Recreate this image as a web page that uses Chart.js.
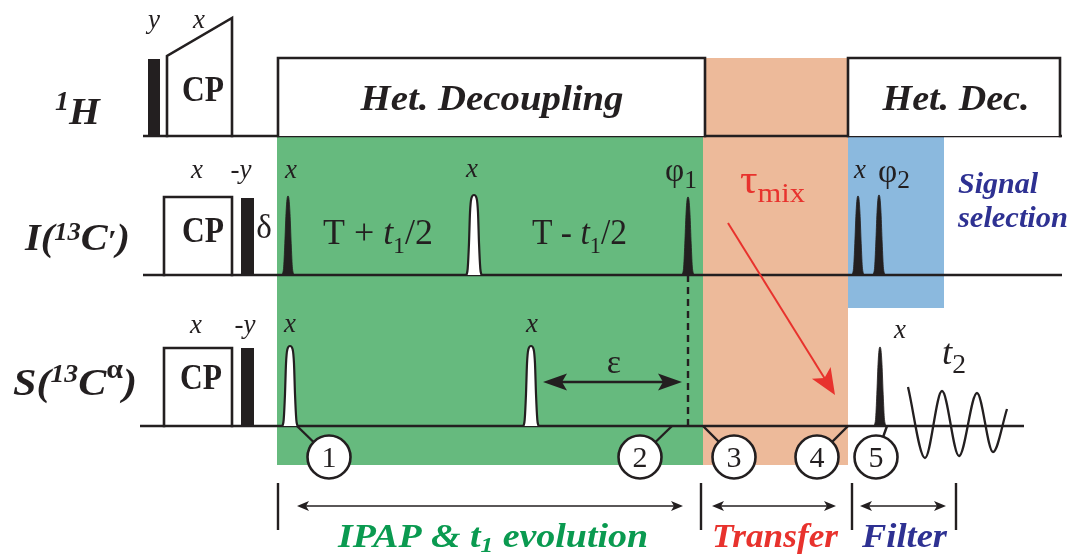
<!DOCTYPE html>
<html>
<head>
<meta charset="utf-8">
<script src="https://cdn.jsdelivr.net/npm/chart.js@4.4.0/dist/chart.umd.min.js"></script>
<style>
  html, body { margin: 0; padding: 0; background: #fff; overflow: hidden; }
  canvas { display: block; }
</style>
</head>
<body>
<canvas id="seq" width="1072" height="554"></canvas>
<script>
// Eixo de tempo horizontal e posição vertical, em unidades do desenho (1 unidade = 1 px)
const INK = '#231f20';
const SERIF = '"Liberation Serif", "DejaVu Serif", serif';

// Canais: 1H, I(13C'), S(13Ca)
const chanBase = [136, 275, 426];
const chanStart = [143, 143, 140];
const chanEnd = [1062, 1062, 1024];

// Períodos sombreados: IPAP & t1, Transfer, Filter
const periodX0 = [277, 703, 848];
const periodX1 = [703, 848, 944];
const periodTop = [137, 58, 137];
const periodBottom = [465, 465, 308];
const periodColor = ['#66ba7e', '#edba9a', '#8bb9de'];

// Pulsos duros (barras pretas)
const barChan = [0, 1, 2];
const barX0 = [148, 241, 241];
const barX1 = [160, 254, 254];
const barTop = [59, 198, 348];

// Blocos: CP em I e S, desacoplamento heteronuclear em 1H
const boxChan = [1, 2, 0, 0];
const boxX0 = [164, 164, 278, 848];
const boxX1 = [232, 232, 705, 1060];
const boxTop = [197, 348, 58, 58];
const boxFill = [null, null, '#fff', '#fff'];

// Rampa CP no 1H
const rampX = [167, 167, 232, 232];
const rampY = [136, 56, 18, 136];

// Pulsos seletivos
const pulseChan = [1, 1, 1, 1, 1, 2, 2, 2];
const pulseX = [288, 474, 688, 858, 879, 290, 531, 880];
const pulseTop = [196, 195, 197, 196, 195, 346, 346, 347];
const pulseBlack = [true, false, true, true, true, false, false, true];
// perfil do pulso: deslocamento lateral e fração da altura
const blackDx = [-6.5, -4.5, -3.2, -2, -1, 0, 1, 2, 3.2, 4.5, 6.5];
const whiteDx = [-7.5, -6.3, -5, -4, -2.6, 0, 2.6, 4, 5, 6.3, 7.5];
const profH = [0, 0.08, 0.4, 0.78, 0.96, 1, 0.96, 0.78, 0.4, 0.08, 0];

// FID (t2): máximos e mínimos
const fidX = [908, 925, 942, 959, 977, 993, 1007];
const fidY = [387, 458, 391, 456, 393, 452, 409];

// Marcadores numerados
const markNum = ['1', '2', '3', '4', '5'];
const markX = [329, 640, 734, 817, 876];
const markY = 457;
const markFoot = [297, 672, 703, 848, 887];

// Setas
const epsX = [543, 682], epsY = 382;
const dashX = 688;
const mixFrom = [728, 223], mixTo = [835, 395];
const spanX0 = [297, 712, 860];
const spanX1 = [683, 836, 946];
const spanY = 506;
const tickX = [278, 701, 852, 956];
const tickY = [483, 530];

// Textos: segmentos [texto, estilo, tamanho, deslocamento]
const labels = [
  { s: [['y', 'i', 27]], x: 154, y: 28 },
  { s: [['x', 'i', 27]], x: 199, y: 28 },
  { s: [['CP', 'b', 36]], x: 203, y: 101, w: 42 },
  { s: [['Het. Decoupling', 'bi', 35]], x: 492, y: 110, w: 263 },
  { s: [['Het. Dec.', 'bi', 35]], x: 956, y: 110, w: 147 },
  { s: [['1', 'bi', 27, -14], ['H', 'bi', 38]], x: 55, y: 124, a: 'left', w: 45 },
  { s: [['I', 'bi', 38], ['(', 'bi', 38], ['13', 'bi', 25, -10], ['C', 'bi', 38], ['\u2032', 'bi', 30], [')', 'bi', 38]], x: 25, y: 250, a: 'left', w: 105 },
  { s: [['S', 'bi', 38], ['(', 'bi', 38], ['13', 'bi', 25, -13], ['C', 'bi', 38], ['\u03b1', 'b', 27, -17], [')', 'bi', 38]], x: 13, y: 395, a: 'left', w: 124 },
  { s: [['x', 'i', 27]], x: 197, y: 178 },
  { s: [['-y', 'i', 27]], x: 241, y: 178 },
  { s: [['CP', 'b', 36]], x: 203, y: 242, w: 42 },
  { s: [['\u03b4', '', 33]], x: 264, y: 238 },
  { s: [['x', 'i', 27]], x: 291, y: 178 },
  { s: [['T + ', '', 36], ['t', 'i', 36], ['1', '', 24, 9], ['/2', '', 36]], x: 323, y: 244, a: 'left', w: 110 },
  { s: [['x', 'i', 27]], x: 472, y: 177 },
  { s: [['T - ', '', 36], ['t', 'i', 36], ['1', '', 24, 9], ['/2', '', 36]], x: 532, y: 244, a: 'left', w: 95 },
  { s: [['\u03c6', '', 34], ['1', '', 26, 7]], x: 665, y: 181, a: 'left', w: 32 },
  { s: [['\u03c4', '', 40], ['mix', '', 28, 9]], x: 740, y: 193, a: 'left', w: 65, c: '#e8322d' },
  { s: [['x', 'i', 27]], x: 860, y: 178 },
  { s: [['\u03c6', '', 34], ['2', '', 26, 6]], x: 878, y: 182, a: 'left', w: 32 },
  { s: [['Signal', 'bi', 30]], x: 958, y: 193, a: 'left', w: 80, c: '#2e3192' },
  { s: [['selection', 'bi', 30]], x: 958, y: 227, a: 'left', w: 110, c: '#2e3192' },
  { s: [['x', 'i', 27]], x: 196, y: 333 },
  { s: [['-y', 'i', 27]], x: 245, y: 333 },
  { s: [['CP', 'b', 36]], x: 201, y: 389, w: 42 },
  { s: [['x', 'i', 27]], x: 290, y: 332 },
  { s: [['x', 'i', 27]], x: 532, y: 332 },
  { s: [['\u03b5', '', 34]], x: 614, y: 373 },
  { s: [['x', 'i', 27]], x: 900, y: 338 },
  { s: [['t', 'i', 36], ['2', '', 27, 9]], x: 942, y: 364, a: 'left', w: 24 },
  { s: [['IPAP & ', 'bi', 33], ['t', 'bi', 33], ['1', 'bi', 22, 5], [' evolution', 'bi', 33]], x: 338, y: 547, a: 'left', w: 310, c: '#0a9a50' },
  { s: [['Transfer', 'bi', 33]], x: 712, y: 547, a: 'left', w: 126, c: '#e8322d' },
  { s: [['Filter', 'bi', 33]], x: 862, y: 547, a: 'left', w: 85, c: '#2e3192' }
];
markNum.forEach((n, i) => labels.push({ s: [[n, '', 30]], x: markX[i], y: markY + 10 }));

// ---- datasets ----
const ds = [];
function add(d) {
  ds.push(Object.assign({
    showLine: true, pointRadius: 0, pointHoverRadius: 0, borderWidth: 0,
    tension: 0, fill: false, borderColor: INK, backgroundColor: INK
  }, d));
}
function seg(x0, y0, x1, y1, w, color, dash) {
  add({ data: [{ x: x0, y: y0 }, { x: x1, y: y1 }], borderWidth: w, borderColor: color || INK, borderDash: dash || [] });
}
function arrowHead(tx, ty, ux, uy, len, half, notch, color) {
  const px = -uy, py = ux;
  const bx = tx - ux * len, by = ty - uy * len;
  add({
    data: [
      { x: tx, y: ty },
      { x: bx + px * half, y: by + py * half },
      { x: tx - ux * (len - notch), y: ty - uy * (len - notch) },
      { x: bx - px * half, y: by - py * half },
      { x: tx, y: ty }
    ],
    fill: 'shape', backgroundColor: color, borderWidth: 0
  });
}

// períodos
periodX0.forEach((x0, i) => add({
  data: [{ x: x0, y: periodTop[i] }, { x: periodX1[i], y: periodTop[i] }],
  fill: { value: periodBottom[i] }, backgroundColor: periodColor[i]
}));

// linhas de base
chanBase.forEach((b, i) => seg(chanStart[i], b, chanEnd[i], b, 2.6));

// blocos
boxX0.forEach((x0, i) => {
  const b = chanBase[boxChan[i]];
  add({
    data: [{ x: x0, y: b }, { x: x0, y: boxTop[i] }, { x: boxX1[i], y: boxTop[i] }, { x: boxX1[i], y: b }],
    borderWidth: 2.6, borderCapStyle: 'square',
    fill: boxFill[i] ? { value: b } : false, backgroundColor: boxFill[i] || 'transparent'
  });
});
add({
  data: rampX.map((x, k) => ({ x: x, y: rampY[k] })),
  borderWidth: 2.6, borderCapStyle: 'square'
});

// barras
barX0.forEach((x0, i) => add({
  data: [{ x: x0, y: barTop[i] }, { x: barX1[i], y: barTop[i] }],
  fill: { value: chanBase[barChan[i]] }, backgroundColor: INK
}));

// linha tracejada
seg(dashX, chanBase[1], dashX, chanBase[2], 2.4, INK, [7, 5]);

// pulsos seletivos
pulseX.forEach((x, i) => {
  const b = chanBase[pulseChan[i]];
  const dx = pulseBlack[i] ? blackDx : whiteDx;
  add({
    data: dx.map((d, k) => ({ x: x + d, y: b - profH[k] * (b - pulseTop[i]) })),
    cubicInterpolationMode: 'monotone',
    fill: { value: b },
    backgroundColor: pulseBlack[i] ? INK : '#fff',
    borderWidth: pulseBlack[i] ? 0.8 : 2.2
  });
});

// FID
add({
  data: fidX.map((x, k) => ({ x: x, y: fidY[k] })),
  cubicInterpolationMode: 'monotone', borderWidth: 2.3
});

// seta epsilon
seg(epsX[0] + 10, epsY, epsX[1] - 10, epsY, 2.6);
arrowHead(epsX[0], epsY, -1, 0, 24, 8.5, 5, INK);
arrowHead(epsX[1], epsY, 1, 0, 24, 8.5, 5, INK);

// seta tau_mix
{
  const dx = mixTo[0] - mixFrom[0], dy = mixTo[1] - mixFrom[1];
  const L = Math.hypot(dx, dy), ux = dx / L, uy = dy / L;
  seg(mixFrom[0], mixFrom[1], mixTo[0] - ux * 18, mixTo[1] - uy * 18, 2, '#e8322d');
  arrowHead(mixTo[0], mixTo[1], ux, uy, 26, 11, 6, '#e8322d');
}

// setas dos períodos
tickX.forEach(x => seg(x, tickY[0], x, tickY[1], 2.4));
spanX0.forEach((x0, i) => {
  seg(x0 + 4, spanY, spanX1[i] - 4, spanY, 1.6);
  arrowHead(x0, spanY, -1, 0, 12, 5, 3, INK);
  arrowHead(spanX1[i], spanY, 1, 0, 12, 5, 3, INK);
});

// conectores e círculos numerados
markX.forEach((x, i) => seg(markFoot[i], chanBase[2], x, markY, 2.4));
add({
  data: markX.map(x => ({ x: x, y: markY })),
  showLine: false, pointRadius: 21.5, pointHoverRadius: 21.5,
  pointBackgroundColor: '#fff', pointBorderColor: INK, pointBorderWidth: 2.6
});

ds.forEach((d, i) => { d.order = ds.length - i; });

// ---- textos ----
function fontOf(style, size) {
  const it = style.includes('i') ? 'italic ' : '';
  const bd = style.includes('b') ? 'bold ' : '';
  return it + bd + size + 'px ' + SERIF;
}
function drawRich(ctx, px, py, l) {
  ctx.save();
  let total = 0;
  const widths = l.s.map(sg => {
    ctx.font = fontOf(sg[1], sg[2]);
    const w = ctx.measureText(sg[0]).width;
    total += w;
    return w;
  });
  const target = l.w || total;
  const x0 = l.a === 'left' ? px : px - target / 2;
  ctx.translate(x0, py);
  ctx.scale(target / total, 1);
  ctx.fillStyle = l.c || INK;
  ctx.textAlign = 'left';
  ctx.textBaseline = 'alphabetic';
  let cx = 0;
  l.s.forEach((sg, i) => {
    ctx.font = fontOf(sg[1], sg[2]);
    ctx.fillText(sg[0], cx, sg[3] || 0);
    cx += widths[i];
  });
  ctx.restore();
}
const textPlugin = {
  id: 'seqText',
  afterDatasetsDraw(chart) {
    const ctx = chart.ctx, sx = chart.scales.x, sy = chart.scales.y;
    labels.forEach(l => drawRich(ctx, sx.getPixelForValue(l.x), sy.getPixelForValue(l.y), l));
  }
};

new Chart(document.getElementById('seq'), {
  type: 'scatter',
  data: { datasets: ds },
  options: {
    responsive: false,
    animation: false,
    events: [],
    layout: { padding: 0, autoPadding: false },
    scales: {
      x: { type: 'linear', min: 0, max: 1072, display: false },
      y: { type: 'linear', min: 0, max: 554, reverse: true, display: false }
    },
    elements: { line: { borderJoinStyle: 'miter', borderCapStyle: 'butt' } },
    plugins: { legend: { display: false }, tooltip: { enabled: false } }
  },
  plugins: [textPlugin]
});
</script>
</body>
</html>
